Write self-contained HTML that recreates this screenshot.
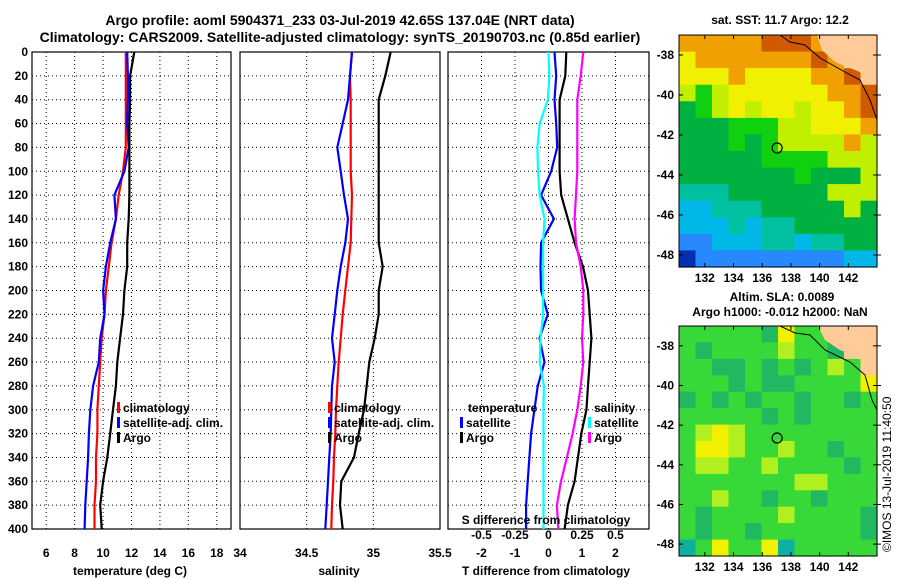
<!DOCTYPE html>
<html><head><meta charset="utf-8"><style>
html,body{margin:0;padding:0;background:#fff;}
svg{display:block;font-family:"Liberation Sans",sans-serif;font-weight:bold;}
</style></head><body>
<svg id="s" width="900" height="580" viewBox="0 0 900 580" xmlns="http://www.w3.org/2000/svg">
<text x="340" y="25" font-size="14" text-anchor="middle">Argo profile: aoml 5904371_233 03-Jul-2019 42.65S 137.04E (NRT data)</text>
<text x="340" y="42" font-size="14" text-anchor="middle">Climatology: CARS2009. Satellite-adjusted climatology: synTS_20190703.nc (0.85d earlier)</text>
<g id="plots"></g>
<text x="130" y="575" font-size="12" text-anchor="middle">temperature (deg C)</text>
<text x="339" y="575" font-size="12" text-anchor="middle">salinity</text>
<text x="546" y="575" font-size="12" text-anchor="middle">T difference from climatology</text>
<text x="546" y="524" font-size="12" text-anchor="middle">S difference from climatology</text>
<text x="780" y="24" font-size="12" text-anchor="middle">sat. SST: 11.7 Argo: 12.2</text>
<text x="782" y="301" font-size="12" text-anchor="middle">Altim. SLA: 0.0089</text>
<text x="780" y="316" font-size="12" text-anchor="middle">Argo h1000: -0.012 h2000: NaN</text>
<text transform="translate(891,552) rotate(-90)" font-size="12" font-weight="normal">©IMOS 13-Jul-2019 11:40:50</text>
</svg>
<script>
// ---- data ----
const depths = [0,20,40,60,80,100,120,140,160,180,200,220,240,260,280,300,320,340,360,380,400];
const tempArgo = [12.2,11.9,11.9,11.85,11.85,11.85,11.85,11.8,11.7,11.7,11.5,11.4,11.2,11.0,10.9,10.7,10.5,10.3,10.0,9.8,9.9];
const tempClim = [11.6,11.6,11.6,11.6,11.6,11.4,11.1,10.9,10.6,10.4,10.2,10.1,9.9,9.8,9.7,9.6,9.6,9.5,9.5,9.4,9.4];
const tempSat  = [11.7,11.75,11.75,11.7,11.8,11.5,10.8,10.9,10.5,10.2,10.0,10.1,9.8,9.7,9.3,9.1,9.0,8.95,8.85,8.75,8.7];
const salArgo = [35.13,35.09,35.04,35.04,35.04,35.04,35.04,35.04,35.04,35.07,35.04,35.04,35.01,34.97,34.95,34.93,34.89,34.855,34.76,34.75,34.77];
const salClim = [34.84,34.825,34.83,34.83,34.83,34.83,34.84,34.835,34.83,34.81,34.79,34.77,34.755,34.74,34.73,34.72,34.715,34.705,34.7,34.69,34.685];
const salSat  = [34.84,34.825,34.81,34.77,34.73,34.755,34.78,34.81,34.79,34.755,34.73,34.71,34.69,34.71,34.69,34.685,34.68,34.67,34.66,34.65,34.64];
const tdArgo = [0.53,0.5,0.33,0.33,0.33,0.33,0.38,0.58,0.78,1.03,1.18,1.23,1.28,1.23,1.18,1.13,0.98,0.88,0.78,0.58,0.48];
const tdSat  = [0.18,0.23,0.18,0.23,0.26,0.08,-0.22,0.16,-0.22,-0.24,-0.22,-0.02,-0.27,-0.12,-0.32,-0.42,-0.52,-0.57,-0.62,-0.67,-0.67];
const sdSat  = [0,0.007,-0.005,-0.066,-0.083,-0.078,-0.066,-0.03,-0.04,-0.04,-0.04,-0.04,-0.06,-0.066,-0.034,-0.037,-0.037,-0.037,-0.037,-0.037,-0.037];
const sdArgo = [0.26,0.24,0.215,0.215,0.215,0.215,0.205,0.195,0.205,0.24,0.26,0.26,0.25,0.26,0.24,0.215,0.18,0.137,0.093,0.063,0.073];
const depthTicks = [0,20,40,60,80,100,120,140,160,180,200,220,240,260,280,300,320,340,360,380,400];
const tempTicks = [6,8,10,12,14,16,18];
const salTicks = [34,34.5,35,35.5];
const tdTicks = [-2,-1,0,1,2];
const sdTicks = [-0.5,-0.25,0,0.25,0.5];
const sdTickLabels = ["-0.5","-0.25","0","0.25","0.5"];
const lonTicks = [132,134,136,138,140,142];
const latTicks = [-38,-40,-42,-44,-46,-48];
const argoLon = 137.04, argoLat = -42.65;
const sstRows = ["oooooOOOoLLL","YoooooooOoLL","YYYoYYYYooOL","yGyYYYYYYooO","gGyYyYYyYYoO","gggGGGyyYYYo","gggGgGyyyyoy","gggggGGGGyyy","gggggggGgggy","tttggggggyyy","cctttgggggyg","ccctcttggggg","bbcccttcttgg","Bbbbbbbbbbcc"];
const slaRows = ["GGGGGgYGGLLL","GgGGGGyGGgLL","GGggGgGgGyGL","GGGgGggGGGGY","gGgGgGGgGGgG","GGGGGgGgGGGG","GyYyGGGGGGGG","GYYyGGyGGgGG","GyyGGyGGGGgG","GGGGGGGyyGGG","GGyGGgGGgGGG","GgGGGGyGGGGg","GgGGgGGGGGGg","tGYGGYtGGGGG"];

const NS="http://www.w3.org/2000/svg";
const root=document.getElementById('plots');
function mk(tag,attrs,parent){const e=document.createElementNS(NS,tag);for(const k in attrs)e.setAttribute(k,attrs[k]);(parent||root).appendChild(e);return e;}
const Y0=52,Y1=529;
const yD=d=>Y0+(d/400)*(Y1-Y0);
function lin(d0,d1,r0,r1){return v=>r0+(v-d0)/(d1-d0)*(r1-r0);}

function panel(name,x0,x1,xs,ticks,labels,showY){
  const g=mk('g',{});
  
  
  ticks.forEach((t,i)=>{const x=xs(t);
    if(x>x0+1&&x<x1-1){const l=mk('line',{x1:x,x2:x,y1:Y0,y2:Y1,stroke:'#000','stroke-width':1,'stroke-dasharray':'1,3'},g);
      }
    const tx=mk('text',{x:x,y:557,'font-size':12,'text-anchor':'middle'},g);tx.textContent=labels[i];
    
  });
  depthTicks.forEach(d=>{const y=yD(d);
    if(d>0&&d<400){const l=mk('line',{x1:x0,x2:x1,y1:y,y2:y,stroke:'#000','stroke-width':1,'stroke-dasharray':'1,3'},g);
      }
    if(showY){const tx=mk('text',{x:28,y:y+4,'font-size':12,'text-anchor':'end'},g);tx.textContent=d;
      }
  });
  const r=mk('rect',{x:x0,y:Y0,width:x1-x0,height:Y1-Y0,fill:'none',stroke:'#000','stroke-width':1.2},g);
  
  return g;
}
function series(g,name,vals,xs,color){
  const pts=vals.map((v,i)=>xs(v).toFixed(1)+','+yD(depths[i]).toFixed(1)).join(' ');
  const p=mk('polyline',{points:pts,fill:'none',stroke:color,'stroke-width':2.2},g);
  
}
function legend(g,x,y,color,label,name){
  const r=mk('rect',{x:x,y:y-10,width:3,height:11,fill:color},g);
  
  const t=mk('text',{x:x+6,y:y,'font-size':12},g);t.textContent=label;
  
}
// Panel 1
const xT=lin(5,19,32,231);
const g1=panel('temperature-panel',32,231,xT,tempTicks,tempTicks.map(String),true);
series(g1,'temp-climatology',tempClim,xT,'#f00');
series(g1,'temp-satellite',tempSat,xT,'#00f');
series(g1,'temp-argo',tempArgo,xT,'#000');
legend(g1,117,412,'#f00','climatology','legend-climatology');
legend(g1,117,427,'#00f','satellite-adj. clim.','legend-satellite');
legend(g1,117,442,'#000','Argo','legend-argo');
// Panel 2
const xS=lin(34,35.5,240,440);
const g2=panel('salinity-panel',240,440,xS,salTicks,salTicks.map(String),false);
series(g2,'sal-climatology',salClim,xS,'#f00');
series(g2,'sal-satellite',salSat,xS,'#00f');
series(g2,'sal-argo',salArgo,xS,'#000');
legend(g2,328,412,'#f00','climatology','legend-climatology');
legend(g2,328,427,'#00f','satellite-adj. clim.','legend-satellite');
legend(g2,328,442,'#000','Argo','legend-argo');
// Panel 3
const xTD=lin(-3,3,448,649);
const xSD=lin(-0.75,0.75,448,649);
const g3=panel('difference-panel',448,649,xTD,tdTicks,tdTicks.map(String),false);
sdTicks.forEach((t,i)=>{const tx=mk('text',{x:xSD(t),y:539,'font-size':12,'text-anchor':'middle'},g3);tx.textContent=sdTickLabels[i];
  });
series(g3,'tdiff-satellite',tdSat,xTD,'#00f');
series(g3,'sdiff-satellite',sdSat,xSD,'#0ff');
series(g3,'tdiff-argo',tdArgo,xTD,'#000');
series(g3,'sdiff-argo',sdArgo,xSD,'#f0f');
const lt=mk('text',{x:468,y:412,'font-size':12},g3);lt.textContent='temperature';

const ls=mk('text',{x:594,y:412,'font-size':12},g3);ls.textContent='salinity';

legend(g3,460,427,'#00f','satellite','legend-t-satellite');
legend(g3,460,442,'#000','Argo','legend-t-argo');
legend(g3,588,427,'#0ff','satellite','legend-s-satellite');
legend(g3,588,442,'#f0f','Argo','legend-s-argo');

// Maps
const pal={O:'#d05a00',o:'#f0a000',Y:'#f0f000',y:'#c0f000',G:'#10d010',g:'#00b040',t:'#00c0a0',c:'#00b8e8',b:'#2888ff',B:'#0030b0',L:'#ffcc99'};
const palSla={G:'#38d838',g:'#20b860',y:'#b0f020',Y:'#f0f000',t:'#10b0a0',L:'#ffcc99'};
function map(name,top,bot,rows,p,land,coast){
  const g=mk('g',{});
  const mx0=679,mx1=877,cw=(mx1-mx0)/12,ch=(bot-top)/rows.length;
  rows.forEach((row,r)=>{[...row].forEach((c,k)=>{
    const e=mk('rect',{x:(mx0+k*cw).toFixed(1),y:(top+r*ch).toFixed(1),width:(cw+0.6).toFixed(1),height:(ch+0.6).toFixed(1),fill:p[c]},g);
    });});
  const l=mk('polygon',{points:land,fill:'#ffcc99'},g);
  const c=mk('polyline',{points:coast,fill:'none',stroke:'#000','stroke-width':1},g);
  const lx=lin(130.2,144,mx0,mx1), ly=lin(-37,-48.6,top,bot);
  lonTicks.forEach(v=>{const x=lx(v);
    mk('line',{x1:x,x2:x,y1:top,y2:top+4,stroke:'#000'},g);mk('line',{x1:x,x2:x,y1:bot,y2:bot-4,stroke:'#000'},g);
    const t=mk('text',{x:x,y:bot+15,'font-size':12,'text-anchor':'middle'},g);t.textContent=v;
    });
  latTicks.forEach(v=>{const y=ly(v);
    mk('line',{x1:mx0,x2:mx0+4,y1:y,y2:y,stroke:'#000'},g);mk('line',{x1:mx1,x2:mx1-4,y1:y,y2:y,stroke:'#000'},g);mk('line',{x1:mx1,x2:mx1+4,y1:y,y2:y,stroke:'#000'},g);
    const t=mk('text',{x:674,y:y+4,'font-size':12,'text-anchor':'end'},g);t.textContent=v;
    });
  const ci=mk('circle',{cx:lx(argoLon),cy:ly(argoLat),r:5,fill:'none',stroke:'#000','stroke-width':1.2},g);
  
  const fr=mk('rect',{x:mx0,y:top,width:mx1-mx0,height:bot-top,fill:'none',stroke:'#000'},g);
  
}
map('sst-map',35,267,sstRows,pal,'817,35 822,50 835,62 850,68 862,73 877,76 877,35',
  '780,35 790,42 805,45 820,58 845,72 860,80 870,100 877,120');
map('sla-map',326,556,slaRows,palSla,'818,326 825,340 840,350 860,357 873,365 877,362 877,326',
  '780,326 795,333 810,335 825,350 850,362 865,375 872,400 877,410');
</script>
</body></html>
